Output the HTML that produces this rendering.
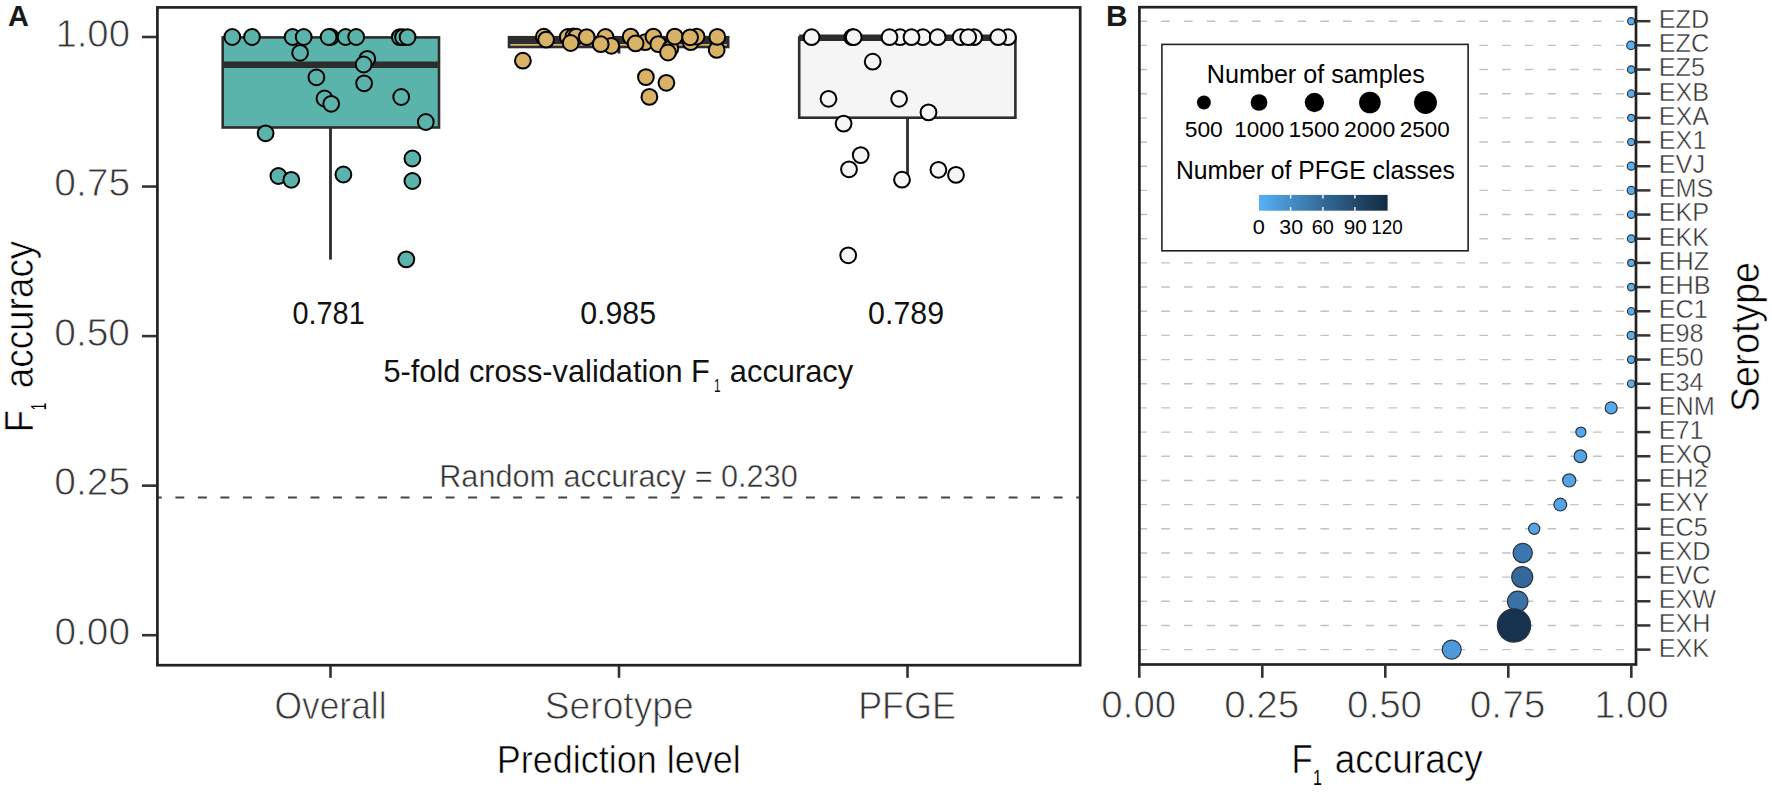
<!DOCTYPE html>
<html><head><meta charset="utf-8"><title>F1 accuracy figure</title><style>
html,body{margin:0;padding:0;background:#fff;}
body{width:1772px;height:792px;overflow:hidden;}
svg{display:block;}
text{font-family:"Liberation Sans", Arial, Helvetica, sans-serif;font-kerning:none;}
</style></head>
<body><svg width="1772" height="792" viewBox="0 0 1772 792">
<rect width="1772" height="792" fill="#fff"/>
<line x1="142" y1="37.00" x2="157.4" y2="37.00" stroke="#333333" stroke-width="2.6"/>
<text x="55.38" y="46.60" font-size="38.64" fill="#363636" stroke="#fff" stroke-width="0.8" textLength="74.62" lengthAdjust="spacingAndGlyphs">1.00</text>
<line x1="142" y1="186.55" x2="157.4" y2="186.55" stroke="#333333" stroke-width="2.6"/>
<text x="54.28" y="196.15" font-size="38.64" fill="#363636" stroke="#fff" stroke-width="0.8" textLength="75.86" lengthAdjust="spacingAndGlyphs">0.75</text>
<line x1="142" y1="336.10" x2="157.4" y2="336.10" stroke="#333333" stroke-width="2.6"/>
<text x="54.28" y="345.70" font-size="38.64" fill="#363636" stroke="#fff" stroke-width="0.8" textLength="75.74" lengthAdjust="spacingAndGlyphs">0.50</text>
<line x1="142" y1="485.65" x2="157.4" y2="485.65" stroke="#333333" stroke-width="2.6"/>
<text x="54.28" y="495.25" font-size="38.64" fill="#363636" stroke="#fff" stroke-width="0.8" textLength="75.86" lengthAdjust="spacingAndGlyphs">0.25</text>
<line x1="142" y1="635.20" x2="157.4" y2="635.20" stroke="#333333" stroke-width="2.6"/>
<text x="54.48" y="644.80" font-size="38.64" fill="#363636" stroke="#fff" stroke-width="0.8" textLength="75.53" lengthAdjust="spacingAndGlyphs">0.00</text>
<line x1="330.5" y1="665.2" x2="330.5" y2="677.8" stroke="#333333" stroke-width="2.6"/>
<text x="274.42" y="719.20" font-size="39.14" fill="#363636" stroke="#fff" stroke-width="0.8" textLength="112.15" lengthAdjust="spacingAndGlyphs">Overall</text>
<line x1="619.0" y1="665.2" x2="619.0" y2="677.8" stroke="#333333" stroke-width="2.6"/>
<text x="544.81" y="719.20" font-size="39.14" fill="#363636" stroke="#fff" stroke-width="0.8" textLength="148.84" lengthAdjust="spacingAndGlyphs">Serotype</text>
<line x1="907.5" y1="665.2" x2="907.5" y2="677.8" stroke="#333333" stroke-width="2.6"/>
<text x="858.15" y="719.20" font-size="39.14" fill="#363636" stroke="#fff" stroke-width="0.8" textLength="97.79" lengthAdjust="spacingAndGlyphs">PFGE</text>
<line x1="157.4" y1="497.61" x2="1080.2" y2="497.61" stroke="#454545" stroke-width="2.0" stroke-dasharray="8.9 13.62" stroke-dashoffset="4.52"/>
<line x1="330.5" y1="127.5" x2="330.5" y2="259.6" stroke="#2d2d2d" stroke-width="2.8"/><rect x="222.7" y="37.4" width="216.3" height="90.1" fill="#5AB4AC" stroke="#2d2d2d" stroke-width="2.6"/><line x1="222.7" y1="64.8" x2="439.0" y2="64.8" stroke="#2d2d2d" stroke-width="6.6"/>
<line x1="619.0" y1="47.0" x2="619.0" y2="53.6" stroke="#2d2d2d" stroke-width="2.8"/><rect x="509.0" y="37.2" width="219.2" height="9.8" fill="#D8B365" stroke="#2d2d2d" stroke-width="2.6"/><line x1="509.0" y1="41.0" x2="728.2" y2="41.0" stroke="#2d2d2d" stroke-width="6.0"/>
<line x1="907.5" y1="117.7" x2="907.5" y2="179.0" stroke="#2d2d2d" stroke-width="2.8"/><rect x="799.2" y="37.5" width="216.2" height="80.2" fill="#F5F5F5" stroke="#2d2d2d" stroke-width="2.6"/><line x1="799.2" y1="37.8" x2="1015.4" y2="37.8" stroke="#2d2d2d" stroke-width="6.6"/>
<circle cx="232.3" cy="37.0" r="7.9" fill="#5AB4AC" stroke="#000" stroke-width="2.0"/><circle cx="252.0" cy="37.0" r="7.9" fill="#5AB4AC" stroke="#000" stroke-width="2.0"/><circle cx="292.6" cy="37.0" r="7.9" fill="#5AB4AC" stroke="#000" stroke-width="2.0"/><circle cx="303.7" cy="37.0" r="7.9" fill="#5AB4AC" stroke="#000" stroke-width="2.0"/><circle cx="330.8" cy="37.0" r="7.9" fill="#5AB4AC" stroke="#000" stroke-width="2.0"/><circle cx="328.6" cy="37.0" r="7.9" fill="#5AB4AC" stroke="#000" stroke-width="2.0"/><circle cx="345.6" cy="37.0" r="7.9" fill="#5AB4AC" stroke="#000" stroke-width="2.0"/><circle cx="356.2" cy="37.0" r="7.9" fill="#5AB4AC" stroke="#000" stroke-width="2.0"/><circle cx="399.8" cy="37.1" r="7.9" fill="#5AB4AC" stroke="#000" stroke-width="2.0"/><circle cx="403.0" cy="37.1" r="7.9" fill="#5AB4AC" stroke="#000" stroke-width="2.0"/><circle cx="407.6" cy="37.1" r="7.9" fill="#5AB4AC" stroke="#000" stroke-width="2.0"/><circle cx="300.1" cy="52.8" r="7.9" fill="#5AB4AC" stroke="#000" stroke-width="2.0"/><circle cx="367.3" cy="58.8" r="7.9" fill="#5AB4AC" stroke="#000" stroke-width="2.0"/><circle cx="363.7" cy="64.5" r="7.9" fill="#5AB4AC" stroke="#000" stroke-width="2.0"/><circle cx="316.4" cy="77.3" r="7.9" fill="#5AB4AC" stroke="#000" stroke-width="2.0"/><circle cx="364.1" cy="83.3" r="7.9" fill="#5AB4AC" stroke="#000" stroke-width="2.0"/><circle cx="324.5" cy="98.5" r="7.9" fill="#5AB4AC" stroke="#000" stroke-width="2.0"/><circle cx="331.2" cy="103.8" r="7.9" fill="#5AB4AC" stroke="#000" stroke-width="2.0"/><circle cx="401.2" cy="97.0" r="7.9" fill="#5AB4AC" stroke="#000" stroke-width="2.0"/><circle cx="425.8" cy="122.0" r="7.9" fill="#5AB4AC" stroke="#000" stroke-width="2.0"/><circle cx="265.6" cy="133.3" r="7.9" fill="#5AB4AC" stroke="#000" stroke-width="2.0"/><circle cx="278.4" cy="176.0" r="7.9" fill="#5AB4AC" stroke="#000" stroke-width="2.0"/><circle cx="291.3" cy="179.8" r="7.9" fill="#5AB4AC" stroke="#000" stroke-width="2.0"/><circle cx="343.4" cy="174.5" r="7.9" fill="#5AB4AC" stroke="#000" stroke-width="2.0"/><circle cx="412.4" cy="158.5" r="7.9" fill="#5AB4AC" stroke="#000" stroke-width="2.0"/><circle cx="412.4" cy="181.0" r="7.9" fill="#5AB4AC" stroke="#000" stroke-width="2.0"/><circle cx="406.3" cy="259.4" r="7.9" fill="#5AB4AC" stroke="#000" stroke-width="2.0"/>
<circle cx="522.9" cy="60.7" r="7.9" fill="#D8B365" stroke="#000" stroke-width="2.0"/><circle cx="543.8" cy="36.7" r="7.9" fill="#D8B365" stroke="#000" stroke-width="2.0"/><circle cx="546.1" cy="39.6" r="7.9" fill="#D8B365" stroke="#000" stroke-width="2.0"/><circle cx="567.8" cy="37.0" r="7.9" fill="#D8B365" stroke="#000" stroke-width="2.0"/><circle cx="573.5" cy="36.4" r="7.9" fill="#D8B365" stroke="#000" stroke-width="2.0"/><circle cx="576.3" cy="36.7" r="7.9" fill="#D8B365" stroke="#000" stroke-width="2.0"/><circle cx="570.7" cy="43.0" r="7.9" fill="#D8B365" stroke="#000" stroke-width="2.0"/><circle cx="586.7" cy="37.1" r="7.9" fill="#D8B365" stroke="#000" stroke-width="2.0"/><circle cx="605.5" cy="37.0" r="7.9" fill="#D8B365" stroke="#000" stroke-width="2.0"/><circle cx="611.3" cy="45.8" r="7.9" fill="#D8B365" stroke="#000" stroke-width="2.0"/><circle cx="600.7" cy="44.2" r="7.9" fill="#D8B365" stroke="#000" stroke-width="2.0"/><circle cx="630.7" cy="36.6" r="7.9" fill="#D8B365" stroke="#000" stroke-width="2.0"/><circle cx="645.3" cy="42.1" r="7.9" fill="#D8B365" stroke="#000" stroke-width="2.0"/><circle cx="635.6" cy="43.4" r="7.9" fill="#D8B365" stroke="#000" stroke-width="2.0"/><circle cx="653.4" cy="36.6" r="7.9" fill="#D8B365" stroke="#000" stroke-width="2.0"/><circle cx="658.3" cy="44.1" r="7.9" fill="#D8B365" stroke="#000" stroke-width="2.0"/><circle cx="670.3" cy="48.6" r="7.9" fill="#D8B365" stroke="#000" stroke-width="2.0"/><circle cx="668.0" cy="52.5" r="7.9" fill="#D8B365" stroke="#000" stroke-width="2.0"/><circle cx="674.8" cy="36.6" r="7.9" fill="#D8B365" stroke="#000" stroke-width="2.0"/><circle cx="690.7" cy="42.1" r="7.9" fill="#D8B365" stroke="#000" stroke-width="2.0"/><circle cx="696.6" cy="36.6" r="7.9" fill="#D8B365" stroke="#000" stroke-width="2.0"/><circle cx="690.1" cy="37.3" r="7.9" fill="#D8B365" stroke="#000" stroke-width="2.0"/><circle cx="716.7" cy="49.9" r="7.9" fill="#D8B365" stroke="#000" stroke-width="2.0"/><circle cx="717.3" cy="36.9" r="7.9" fill="#D8B365" stroke="#000" stroke-width="2.0"/><circle cx="645.9" cy="77.1" r="7.9" fill="#D8B365" stroke="#000" stroke-width="2.0"/><circle cx="666.4" cy="82.8" r="7.9" fill="#D8B365" stroke="#000" stroke-width="2.0"/><circle cx="649.4" cy="96.9" r="7.9" fill="#D8B365" stroke="#000" stroke-width="2.0"/>
<circle cx="811.6" cy="37.2" r="7.9" fill="#F5F5F5" stroke="#000" stroke-width="2.0"/><circle cx="852.2" cy="37.2" r="7.9" fill="#F5F5F5" stroke="#000" stroke-width="2.0"/><circle cx="853.7" cy="37.2" r="7.9" fill="#F5F5F5" stroke="#000" stroke-width="2.0"/><circle cx="900.1" cy="37.2" r="7.9" fill="#F5F5F5" stroke="#000" stroke-width="2.0"/><circle cx="922.9" cy="37.2" r="7.9" fill="#F5F5F5" stroke="#000" stroke-width="2.0"/><circle cx="889.5" cy="37.2" r="7.9" fill="#F5F5F5" stroke="#000" stroke-width="2.0"/><circle cx="911.5" cy="37.2" r="7.9" fill="#F5F5F5" stroke="#000" stroke-width="2.0"/><circle cx="937.7" cy="37.2" r="7.9" fill="#F5F5F5" stroke="#000" stroke-width="2.0"/><circle cx="960.6" cy="37.2" r="7.9" fill="#F5F5F5" stroke="#000" stroke-width="2.0"/><circle cx="974.1" cy="37.2" r="7.9" fill="#F5F5F5" stroke="#000" stroke-width="2.0"/><circle cx="968.2" cy="37.2" r="7.9" fill="#F5F5F5" stroke="#000" stroke-width="2.0"/><circle cx="1008.0" cy="37.2" r="7.9" fill="#F5F5F5" stroke="#000" stroke-width="2.0"/><circle cx="998.2" cy="37.2" r="7.9" fill="#F5F5F5" stroke="#000" stroke-width="2.0"/><circle cx="872.7" cy="61.7" r="7.9" fill="#F5F5F5" stroke="#000" stroke-width="2.0"/><circle cx="828.5" cy="98.8" r="7.9" fill="#F5F5F5" stroke="#000" stroke-width="2.0"/><circle cx="899.1" cy="98.8" r="7.9" fill="#F5F5F5" stroke="#000" stroke-width="2.0"/><circle cx="928.5" cy="112.4" r="7.9" fill="#F5F5F5" stroke="#000" stroke-width="2.0"/><circle cx="843.6" cy="123.6" r="7.9" fill="#F5F5F5" stroke="#000" stroke-width="2.0"/><circle cx="860.7" cy="155.1" r="7.9" fill="#F5F5F5" stroke="#000" stroke-width="2.0"/><circle cx="849.0" cy="169.3" r="7.9" fill="#F5F5F5" stroke="#000" stroke-width="2.0"/><circle cx="902.0" cy="179.7" r="7.9" fill="#F5F5F5" stroke="#000" stroke-width="2.0"/><circle cx="938.4" cy="169.8" r="7.9" fill="#F5F5F5" stroke="#000" stroke-width="2.0"/><circle cx="956.0" cy="174.9" r="7.9" fill="#F5F5F5" stroke="#000" stroke-width="2.0"/><circle cx="848.2" cy="255.3" r="7.9" fill="#F5F5F5" stroke="#000" stroke-width="2.0"/>
<rect x="157.4" y="7.4" width="922.8" height="657.8" fill="none" stroke="#222222" stroke-width="2.7"/>
<text x="292.47" y="324.10" font-size="30.5" fill="#111" textLength="72.24" lengthAdjust="spacingAndGlyphs">0.781</text>
<text x="580.22" y="324.10" font-size="30.5" fill="#111" textLength="75.86" lengthAdjust="spacingAndGlyphs">0.985</text>
<text x="868.11" y="324.10" font-size="30.5" fill="#111" textLength="75.92" lengthAdjust="spacingAndGlyphs">0.789</text>
<text x="383.47" y="382.30" font-size="30.7" fill="#111" textLength="326.36" lengthAdjust="spacingAndGlyphs">5-fold cross-validation F</text>
<text x="713.90" y="392.20" font-size="17.9" fill="#111" textLength="6.58" lengthAdjust="spacingAndGlyphs">1</text>
<text x="729.89" y="382.30" font-size="30.7" fill="#111" textLength="123.27" lengthAdjust="spacingAndGlyphs">accuracy</text>
<text x="439.26" y="487.43" font-size="31.64" fill="#333333" stroke="#fff" stroke-width="0.45" textLength="358.46" lengthAdjust="spacingAndGlyphs">Random accuracy = 0.230</text>
<text x="496.75" y="773.20" font-size="39.36" fill="#000" stroke="#fff" stroke-width="0.6" textLength="243.96" lengthAdjust="spacingAndGlyphs">Prediction level</text>
<text x="-432.17" y="33.30" font-size="40.06" fill="#000" transform="rotate(-90)" stroke="#fff" stroke-width="0.6" textLength="22.12" lengthAdjust="spacingAndGlyphs">F</text>
<text x="-410.21" y="45.50" font-size="21.8" fill="#000" transform="rotate(-90)" textLength="7.35" lengthAdjust="spacingAndGlyphs">1</text>
<text x="-388.27" y="33.40" font-size="40.06" fill="#000" transform="rotate(-90)" stroke="#fff" stroke-width="0.6" textLength="147.54" lengthAdjust="spacingAndGlyphs">accuracy</text>
<text x="7.88" y="26.40" font-size="29.8" fill="#1a1a1a" font-weight="bold" textLength="20.88" lengthAdjust="spacingAndGlyphs">A</text>
<line x1="1139.4" y1="21.20" x2="1636.0" y2="21.20" stroke="#c2c2c2" stroke-width="1.4" stroke-dasharray="8.5 14.22" stroke-dashoffset="0.8"/>
<line x1="1139.4" y1="45.37" x2="1636.0" y2="45.37" stroke="#c2c2c2" stroke-width="1.4" stroke-dasharray="8.5 14.22" stroke-dashoffset="0.8"/>
<line x1="1139.4" y1="69.54" x2="1636.0" y2="69.54" stroke="#c2c2c2" stroke-width="1.4" stroke-dasharray="8.5 14.22" stroke-dashoffset="0.8"/>
<line x1="1139.4" y1="93.71" x2="1636.0" y2="93.71" stroke="#c2c2c2" stroke-width="1.4" stroke-dasharray="8.5 14.22" stroke-dashoffset="0.8"/>
<line x1="1139.4" y1="117.88" x2="1636.0" y2="117.88" stroke="#c2c2c2" stroke-width="1.4" stroke-dasharray="8.5 14.22" stroke-dashoffset="0.8"/>
<line x1="1139.4" y1="142.05" x2="1636.0" y2="142.05" stroke="#c2c2c2" stroke-width="1.4" stroke-dasharray="8.5 14.22" stroke-dashoffset="0.8"/>
<line x1="1139.4" y1="166.22" x2="1636.0" y2="166.22" stroke="#c2c2c2" stroke-width="1.4" stroke-dasharray="8.5 14.22" stroke-dashoffset="0.8"/>
<line x1="1139.4" y1="190.39" x2="1636.0" y2="190.39" stroke="#c2c2c2" stroke-width="1.4" stroke-dasharray="8.5 14.22" stroke-dashoffset="0.8"/>
<line x1="1139.4" y1="214.56" x2="1636.0" y2="214.56" stroke="#c2c2c2" stroke-width="1.4" stroke-dasharray="8.5 14.22" stroke-dashoffset="0.8"/>
<line x1="1139.4" y1="238.73" x2="1636.0" y2="238.73" stroke="#c2c2c2" stroke-width="1.4" stroke-dasharray="8.5 14.22" stroke-dashoffset="0.8"/>
<line x1="1139.4" y1="262.90" x2="1636.0" y2="262.90" stroke="#c2c2c2" stroke-width="1.4" stroke-dasharray="8.5 14.22" stroke-dashoffset="0.8"/>
<line x1="1139.4" y1="287.07" x2="1636.0" y2="287.07" stroke="#c2c2c2" stroke-width="1.4" stroke-dasharray="8.5 14.22" stroke-dashoffset="0.8"/>
<line x1="1139.4" y1="311.24" x2="1636.0" y2="311.24" stroke="#c2c2c2" stroke-width="1.4" stroke-dasharray="8.5 14.22" stroke-dashoffset="0.8"/>
<line x1="1139.4" y1="335.41" x2="1636.0" y2="335.41" stroke="#c2c2c2" stroke-width="1.4" stroke-dasharray="8.5 14.22" stroke-dashoffset="0.8"/>
<line x1="1139.4" y1="359.58" x2="1636.0" y2="359.58" stroke="#c2c2c2" stroke-width="1.4" stroke-dasharray="8.5 14.22" stroke-dashoffset="0.8"/>
<line x1="1139.4" y1="383.75" x2="1636.0" y2="383.75" stroke="#c2c2c2" stroke-width="1.4" stroke-dasharray="8.5 14.22" stroke-dashoffset="0.8"/>
<line x1="1139.4" y1="407.92" x2="1636.0" y2="407.92" stroke="#c2c2c2" stroke-width="1.4" stroke-dasharray="8.5 14.22" stroke-dashoffset="0.8"/>
<line x1="1139.4" y1="432.09" x2="1636.0" y2="432.09" stroke="#c2c2c2" stroke-width="1.4" stroke-dasharray="8.5 14.22" stroke-dashoffset="0.8"/>
<line x1="1139.4" y1="456.26" x2="1636.0" y2="456.26" stroke="#c2c2c2" stroke-width="1.4" stroke-dasharray="8.5 14.22" stroke-dashoffset="0.8"/>
<line x1="1139.4" y1="480.43" x2="1636.0" y2="480.43" stroke="#c2c2c2" stroke-width="1.4" stroke-dasharray="8.5 14.22" stroke-dashoffset="0.8"/>
<line x1="1139.4" y1="504.60" x2="1636.0" y2="504.60" stroke="#c2c2c2" stroke-width="1.4" stroke-dasharray="8.5 14.22" stroke-dashoffset="0.8"/>
<line x1="1139.4" y1="528.77" x2="1636.0" y2="528.77" stroke="#c2c2c2" stroke-width="1.4" stroke-dasharray="8.5 14.22" stroke-dashoffset="0.8"/>
<line x1="1139.4" y1="552.94" x2="1636.0" y2="552.94" stroke="#c2c2c2" stroke-width="1.4" stroke-dasharray="8.5 14.22" stroke-dashoffset="0.8"/>
<line x1="1139.4" y1="577.11" x2="1636.0" y2="577.11" stroke="#c2c2c2" stroke-width="1.4" stroke-dasharray="8.5 14.22" stroke-dashoffset="0.8"/>
<line x1="1139.4" y1="601.28" x2="1636.0" y2="601.28" stroke="#c2c2c2" stroke-width="1.4" stroke-dasharray="8.5 14.22" stroke-dashoffset="0.8"/>
<line x1="1139.4" y1="625.45" x2="1636.0" y2="625.45" stroke="#c2c2c2" stroke-width="1.4" stroke-dasharray="8.5 14.22" stroke-dashoffset="0.8"/>
<line x1="1139.4" y1="649.62" x2="1636.0" y2="649.62" stroke="#c2c2c2" stroke-width="1.4" stroke-dasharray="8.5 14.22" stroke-dashoffset="0.8"/>
<circle cx="1631.2" cy="21.20" r="3.55" fill="#5AAEEA" stroke="#2b3540" stroke-width="1.2"/>
<circle cx="1631.0" cy="45.37" r="4.30" fill="#5AAEEA" stroke="#2b3540" stroke-width="1.2"/>
<circle cx="1631.2" cy="69.54" r="3.75" fill="#5AAEEA" stroke="#2b3540" stroke-width="1.2"/>
<circle cx="1631.2" cy="93.71" r="3.75" fill="#5AAEEA" stroke="#2b3540" stroke-width="1.2"/>
<circle cx="1631.2" cy="117.88" r="3.55" fill="#5AAEEA" stroke="#2b3540" stroke-width="1.2"/>
<circle cx="1631.2" cy="142.05" r="3.55" fill="#5AAEEA" stroke="#2b3540" stroke-width="1.2"/>
<circle cx="1631.2" cy="166.22" r="4.00" fill="#5AAEEA" stroke="#2b3540" stroke-width="1.2"/>
<circle cx="1631.2" cy="190.39" r="4.00" fill="#5AAEEA" stroke="#2b3540" stroke-width="1.2"/>
<circle cx="1631.2" cy="214.56" r="3.80" fill="#5AAEEA" stroke="#2b3540" stroke-width="1.2"/>
<circle cx="1631.2" cy="238.73" r="3.80" fill="#5AAEEA" stroke="#2b3540" stroke-width="1.2"/>
<circle cx="1631.2" cy="262.90" r="3.50" fill="#5AAEEA" stroke="#2b3540" stroke-width="1.2"/>
<circle cx="1631.2" cy="287.07" r="3.75" fill="#5AAEEA" stroke="#2b3540" stroke-width="1.2"/>
<circle cx="1631.2" cy="311.24" r="3.75" fill="#5AAEEA" stroke="#2b3540" stroke-width="1.2"/>
<circle cx="1631.2" cy="335.41" r="4.05" fill="#5AAEEA" stroke="#2b3540" stroke-width="1.2"/>
<circle cx="1631.2" cy="359.58" r="3.75" fill="#5AAEEA" stroke="#2b3540" stroke-width="1.2"/>
<circle cx="1631.2" cy="383.75" r="3.75" fill="#5AAEEA" stroke="#2b3540" stroke-width="1.2"/>
<circle cx="1611.2" cy="407.92" r="6.00" fill="#56A8EC" stroke="#2b3540" stroke-width="1.2"/>
<circle cx="1580.9" cy="432.09" r="5.05" fill="#56A8EC" stroke="#2b3540" stroke-width="1.2"/>
<circle cx="1580.4" cy="456.26" r="6.35" fill="#54A4E6" stroke="#2b3540" stroke-width="1.2"/>
<circle cx="1569.2" cy="480.43" r="6.55" fill="#54A4E6" stroke="#2b3540" stroke-width="1.2"/>
<circle cx="1560.3" cy="504.60" r="6.40" fill="#54A4E6" stroke="#2b3540" stroke-width="1.2"/>
<circle cx="1534.2" cy="528.77" r="5.60" fill="#54A4E6" stroke="#2b3540" stroke-width="1.2"/>
<circle cx="1522.7" cy="552.94" r="9.65" fill="#3B78B2" stroke="#2b3540" stroke-width="1.2"/>
<circle cx="1522.2" cy="577.11" r="10.50" fill="#34679A" stroke="#2b3540" stroke-width="1.2"/>
<circle cx="1517.7" cy="601.28" r="10.20" fill="#3A72A8" stroke="#2b3540" stroke-width="1.2"/>
<circle cx="1514.0" cy="625.45" r="16.65" fill="#17324F" stroke="#2b3540" stroke-width="1.2"/>
<circle cx="1451.7" cy="649.62" r="9.50" fill="#4C9AD9" stroke="#2b3540" stroke-width="1.2"/>
<rect x="1139.4" y="7.2" width="496.6" height="657.3" fill="none" stroke="#222222" stroke-width="2.7"/>
<line x1="1636.0" y1="21.20" x2="1650.4" y2="21.20" stroke="#333333" stroke-width="2.5"/>
<text x="1658.70" y="28.08" font-size="25.64" fill="#333333" stroke="#fff" stroke-width="0.45" textLength="50.48" lengthAdjust="spacingAndGlyphs">EZD</text>
<line x1="1636.0" y1="45.37" x2="1650.4" y2="45.37" stroke="#333333" stroke-width="2.5"/>
<text x="1658.70" y="52.25" font-size="25.64" fill="#333333" stroke="#fff" stroke-width="0.45" textLength="50.48" lengthAdjust="spacingAndGlyphs">EZC</text>
<line x1="1636.0" y1="69.54" x2="1650.4" y2="69.54" stroke="#333333" stroke-width="2.5"/>
<text x="1658.70" y="76.42" font-size="25.64" fill="#333333" stroke="#fff" stroke-width="0.45" textLength="46.33" lengthAdjust="spacingAndGlyphs">EZ5</text>
<line x1="1636.0" y1="93.71" x2="1650.4" y2="93.71" stroke="#333333" stroke-width="2.5"/>
<text x="1658.70" y="100.59" font-size="25.64" fill="#333333" stroke="#fff" stroke-width="0.45" textLength="50.51" lengthAdjust="spacingAndGlyphs">EXB</text>
<line x1="1636.0" y1="117.88" x2="1650.4" y2="117.88" stroke="#333333" stroke-width="2.5"/>
<text x="1658.70" y="124.76" font-size="25.64" fill="#333333" stroke="#fff" stroke-width="0.45" textLength="50.49" lengthAdjust="spacingAndGlyphs">EXA</text>
<line x1="1636.0" y1="142.05" x2="1650.4" y2="142.05" stroke="#333333" stroke-width="2.5"/>
<text x="1658.70" y="148.93" font-size="25.64" fill="#333333" stroke="#fff" stroke-width="0.45" textLength="47.74" lengthAdjust="spacingAndGlyphs">EX1</text>
<line x1="1636.0" y1="166.22" x2="1650.4" y2="166.22" stroke="#333333" stroke-width="2.5"/>
<text x="1658.70" y="173.09" font-size="25.64" fill="#333333" stroke="#fff" stroke-width="0.45" textLength="46.34" lengthAdjust="spacingAndGlyphs">EVJ</text>
<line x1="1636.0" y1="190.39" x2="1650.4" y2="190.39" stroke="#333333" stroke-width="2.5"/>
<text x="1658.71" y="197.26" font-size="25.64" fill="#333333" stroke="#fff" stroke-width="0.45" textLength="54.65" lengthAdjust="spacingAndGlyphs">EMS</text>
<line x1="1636.0" y1="214.56" x2="1650.4" y2="214.56" stroke="#333333" stroke-width="2.5"/>
<text x="1658.70" y="221.44" font-size="25.64" fill="#333333" stroke="#fff" stroke-width="0.45" textLength="50.51" lengthAdjust="spacingAndGlyphs">EKP</text>
<line x1="1636.0" y1="238.73" x2="1650.4" y2="238.73" stroke="#333333" stroke-width="2.5"/>
<text x="1658.70" y="245.61" font-size="25.64" fill="#333333" stroke="#fff" stroke-width="0.45" textLength="50.50" lengthAdjust="spacingAndGlyphs">EKK</text>
<line x1="1636.0" y1="262.90" x2="1650.4" y2="262.90" stroke="#333333" stroke-width="2.5"/>
<text x="1658.70" y="269.78" font-size="25.64" fill="#333333" stroke="#fff" stroke-width="0.45" textLength="50.48" lengthAdjust="spacingAndGlyphs">EHZ</text>
<line x1="1636.0" y1="287.07" x2="1650.4" y2="287.07" stroke="#333333" stroke-width="2.5"/>
<text x="1658.71" y="293.94" font-size="25.64" fill="#333333" stroke="#fff" stroke-width="0.45" textLength="51.89" lengthAdjust="spacingAndGlyphs">EHB</text>
<line x1="1636.0" y1="311.24" x2="1650.4" y2="311.24" stroke="#333333" stroke-width="2.5"/>
<text x="1658.70" y="318.12" font-size="25.64" fill="#333333" stroke="#fff" stroke-width="0.45" textLength="49.12" lengthAdjust="spacingAndGlyphs">EC1</text>
<line x1="1636.0" y1="335.41" x2="1650.4" y2="335.41" stroke="#333333" stroke-width="2.5"/>
<text x="1658.70" y="342.29" font-size="25.64" fill="#333333" stroke="#fff" stroke-width="0.45" textLength="44.97" lengthAdjust="spacingAndGlyphs">E98</text>
<line x1="1636.0" y1="359.58" x2="1650.4" y2="359.58" stroke="#333333" stroke-width="2.5"/>
<text x="1658.70" y="366.45" font-size="25.64" fill="#333333" stroke="#fff" stroke-width="0.45" textLength="44.97" lengthAdjust="spacingAndGlyphs">E50</text>
<line x1="1636.0" y1="383.75" x2="1650.4" y2="383.75" stroke="#333333" stroke-width="2.5"/>
<text x="1658.70" y="390.62" font-size="25.64" fill="#333333" stroke="#fff" stroke-width="0.45" textLength="44.96" lengthAdjust="spacingAndGlyphs">E34</text>
<line x1="1636.0" y1="407.92" x2="1650.4" y2="407.92" stroke="#333333" stroke-width="2.5"/>
<text x="1658.71" y="414.80" font-size="25.64" fill="#333333" stroke="#fff" stroke-width="0.45" textLength="56.04" lengthAdjust="spacingAndGlyphs">ENM</text>
<line x1="1636.0" y1="432.09" x2="1650.4" y2="432.09" stroke="#333333" stroke-width="2.5"/>
<text x="1658.70" y="438.97" font-size="25.64" fill="#333333" stroke="#fff" stroke-width="0.45" textLength="44.97" lengthAdjust="spacingAndGlyphs">E71</text>
<line x1="1636.0" y1="456.26" x2="1650.4" y2="456.26" stroke="#333333" stroke-width="2.5"/>
<text x="1658.71" y="463.14" font-size="25.64" fill="#333333" stroke="#fff" stroke-width="0.45" textLength="53.27" lengthAdjust="spacingAndGlyphs">EXQ</text>
<line x1="1636.0" y1="480.43" x2="1650.4" y2="480.43" stroke="#333333" stroke-width="2.5"/>
<text x="1658.70" y="487.31" font-size="25.64" fill="#333333" stroke="#fff" stroke-width="0.45" textLength="49.12" lengthAdjust="spacingAndGlyphs">EH2</text>
<line x1="1636.0" y1="504.60" x2="1650.4" y2="504.60" stroke="#333333" stroke-width="2.5"/>
<text x="1658.70" y="511.48" font-size="25.64" fill="#333333" stroke="#fff" stroke-width="0.45" textLength="50.50" lengthAdjust="spacingAndGlyphs">EXY</text>
<line x1="1636.0" y1="528.77" x2="1650.4" y2="528.77" stroke="#333333" stroke-width="2.5"/>
<text x="1658.70" y="535.65" font-size="25.64" fill="#333333" stroke="#fff" stroke-width="0.45" textLength="49.11" lengthAdjust="spacingAndGlyphs">EC5</text>
<line x1="1636.0" y1="552.94" x2="1650.4" y2="552.94" stroke="#333333" stroke-width="2.5"/>
<text x="1658.71" y="559.82" font-size="25.64" fill="#333333" stroke="#fff" stroke-width="0.45" textLength="51.88" lengthAdjust="spacingAndGlyphs">EXD</text>
<line x1="1636.0" y1="577.11" x2="1650.4" y2="577.11" stroke="#333333" stroke-width="2.5"/>
<text x="1658.71" y="583.99" font-size="25.64" fill="#333333" stroke="#fff" stroke-width="0.45" textLength="51.88" lengthAdjust="spacingAndGlyphs">EVC</text>
<line x1="1636.0" y1="601.28" x2="1650.4" y2="601.28" stroke="#333333" stroke-width="2.5"/>
<text x="1658.71" y="608.16" font-size="25.64" fill="#333333" stroke="#fff" stroke-width="0.45" textLength="57.41" lengthAdjust="spacingAndGlyphs">EXW</text>
<line x1="1636.0" y1="625.45" x2="1650.4" y2="625.45" stroke="#333333" stroke-width="2.5"/>
<text x="1658.70" y="632.33" font-size="25.64" fill="#333333" stroke="#fff" stroke-width="0.45" textLength="51.89" lengthAdjust="spacingAndGlyphs">EXH</text>
<line x1="1636.0" y1="649.62" x2="1650.4" y2="649.62" stroke="#333333" stroke-width="2.5"/>
<text x="1658.70" y="656.50" font-size="25.64" fill="#333333" stroke="#fff" stroke-width="0.45" textLength="50.50" lengthAdjust="spacingAndGlyphs">EXK</text>
<line x1="1139.30" y1="664.5" x2="1139.30" y2="677.8" stroke="#333333" stroke-width="2.6"/>
<text x="1101.30" y="718.30" font-size="38.14" fill="#363636" stroke="#fff" stroke-width="0.8" textLength="74.91" lengthAdjust="spacingAndGlyphs">0.00</text>
<line x1="1262.30" y1="664.5" x2="1262.30" y2="677.8" stroke="#333333" stroke-width="2.6"/>
<text x="1224.19" y="718.30" font-size="38.14" fill="#363636" stroke="#fff" stroke-width="0.8" textLength="75.02" lengthAdjust="spacingAndGlyphs">0.25</text>
<line x1="1385.30" y1="664.5" x2="1385.30" y2="677.8" stroke="#333333" stroke-width="2.6"/>
<text x="1347.10" y="718.30" font-size="38.14" fill="#363636" stroke="#fff" stroke-width="0.8" textLength="74.91" lengthAdjust="spacingAndGlyphs">0.50</text>
<line x1="1508.30" y1="664.5" x2="1508.30" y2="677.8" stroke="#333333" stroke-width="2.6"/>
<text x="1469.78" y="718.30" font-size="38.14" fill="#363636" stroke="#fff" stroke-width="0.8" textLength="75.55" lengthAdjust="spacingAndGlyphs">0.75</text>
<line x1="1631.30" y1="664.5" x2="1631.30" y2="677.8" stroke="#333333" stroke-width="2.6"/>
<text x="1594.19" y="718.30" font-size="38.14" fill="#363636" stroke="#fff" stroke-width="0.8" textLength="74.41" lengthAdjust="spacingAndGlyphs">1.00</text>
<text x="1291.45" y="773.20" font-size="40.06" fill="#000" stroke="#fff" stroke-width="0.6" textLength="21.25" lengthAdjust="spacingAndGlyphs">F</text>
<text x="1312.88" y="785.30" font-size="21.8" fill="#000" textLength="8.90" lengthAdjust="spacingAndGlyphs">1</text>
<text x="1334.63" y="773.20" font-size="40.06" fill="#000" stroke="#fff" stroke-width="0.6" textLength="148.15" lengthAdjust="spacingAndGlyphs">accuracy</text>
<text x="-412.10" y="1758.80" font-size="40.36" fill="#000" transform="rotate(-90)" stroke="#fff" stroke-width="0.6" textLength="150.07" lengthAdjust="spacingAndGlyphs">Serotype</text>
<text x="1106.00" y="26.30" font-size="29.8" fill="#1a1a1a" font-weight="bold" textLength="21.55" lengthAdjust="spacingAndGlyphs">B</text>
<rect x="1161.9" y="44.4" width="306.2" height="206.4" fill="#fff" stroke="#222" stroke-width="1.6"/>
<text x="1206.84" y="82.80" font-size="25" fill="#000" textLength="217.97" lengthAdjust="spacingAndGlyphs">Number of samples</text>
<circle cx="1203.9" cy="102.5" r="6.95" fill="#000"/>
<text x="1184.69" y="137.00" font-size="21.7" fill="#000" textLength="38.11" lengthAdjust="spacingAndGlyphs">500</text>
<circle cx="1259.0" cy="102.5" r="8.35" fill="#000"/>
<text x="1234.19" y="137.00" font-size="21.7" fill="#000" textLength="49.99" lengthAdjust="spacingAndGlyphs">1000</text>
<circle cx="1314.4" cy="102.5" r="9.65" fill="#000"/>
<text x="1288.56" y="137.00" font-size="21.7" fill="#000" textLength="50.94" lengthAdjust="spacingAndGlyphs">1500</text>
<circle cx="1369.9" cy="102.5" r="10.80" fill="#000"/>
<text x="1344.04" y="137.00" font-size="21.7" fill="#000" textLength="51.15" lengthAdjust="spacingAndGlyphs">2000</text>
<circle cx="1425.5" cy="102.5" r="11.45" fill="#000"/>
<text x="1399.77" y="137.00" font-size="21.7" fill="#000" textLength="50.01" lengthAdjust="spacingAndGlyphs">2500</text>
<text x="1175.97" y="179.00" font-size="25" fill="#000" textLength="279.02" lengthAdjust="spacingAndGlyphs">Number of PFGE classes</text>
<defs><linearGradient id="cb" x1="0" x2="1" y1="0" y2="0"><stop offset="0.0" stop-color="#56B1F7"/><stop offset="0.1" stop-color="#4FA2E3"/><stop offset="0.2" stop-color="#4894D0"/><stop offset="0.3" stop-color="#4186BD"/><stop offset="0.4" stop-color="#3A78AA"/><stop offset="0.5" stop-color="#336A98"/><stop offset="0.6" stop-color="#2C5D86"/><stop offset="0.7" stop-color="#265075"/><stop offset="0.8" stop-color="#1F4364"/><stop offset="0.9" stop-color="#193753"/><stop offset="1.0" stop-color="#132B43"/></linearGradient></defs>
<rect x="1259.0" y="194.9" width="128.6" height="15.8" fill="url(#cb)"/>
<line x1="1290.6" y1="194.9" x2="1290.6" y2="198.5" stroke="#fff" stroke-width="1.4"/>
<line x1="1290.6" y1="207.1" x2="1290.6" y2="210.7" stroke="#fff" stroke-width="1.4"/>
<line x1="1322.9" y1="194.9" x2="1322.9" y2="198.5" stroke="#fff" stroke-width="1.4"/>
<line x1="1322.9" y1="207.1" x2="1322.9" y2="210.7" stroke="#fff" stroke-width="1.4"/>
<line x1="1354.9" y1="194.9" x2="1354.9" y2="198.5" stroke="#fff" stroke-width="1.4"/>
<line x1="1354.9" y1="207.1" x2="1354.9" y2="210.7" stroke="#fff" stroke-width="1.4"/>
<text x="1252.65" y="234.30" font-size="20.5" fill="#000" textLength="12.10" lengthAdjust="spacingAndGlyphs">0</text>
<text x="1279.39" y="234.30" font-size="20.5" fill="#000" textLength="23.75" lengthAdjust="spacingAndGlyphs">30</text>
<text x="1311.69" y="234.30" font-size="20.5" fill="#000" textLength="22.08" lengthAdjust="spacingAndGlyphs">60</text>
<text x="1343.73" y="234.30" font-size="20.5" fill="#000" textLength="23.08" lengthAdjust="spacingAndGlyphs">90</text>
<text x="1371.26" y="234.30" font-size="20.5" fill="#000" textLength="31.47" lengthAdjust="spacingAndGlyphs">120</text>
</svg></body></html>
